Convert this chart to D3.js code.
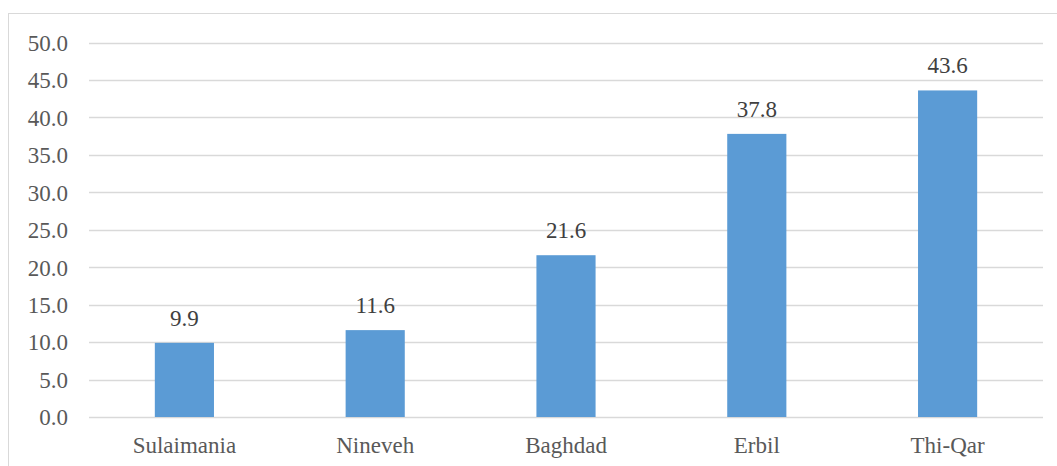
<!DOCTYPE html>
<html>
<head>
<meta charset="utf-8">
<script src="https://cdn.jsdelivr.net/npm/d3@7"></script>
<style>
html,body{margin:0;padding:0;background:#fff;}
svg{display:block;}
svg text{font-family:"Liberation Serif","Times New Roman",Times,"Tinos","DejaVu Serif",serif !important;}
</style>
</head>
<body>
<svg id="chart" width="1057" height="466"></svg>
<script>
const categories = ["Sulaimania", "Nineveh", "Baghdad", "Erbil", "Thi-Qar"];
const values = [9.9, 11.6, 21.6, 37.8, 43.6];
const yTicks = [0, 5, 10, 15, 20, 25, 30, 35, 40, 45, 50];

const svg = d3.select("#chart");
const W = 1057, H = 466;
const m = {left: 89, right: 14, top: 42.5, bottom: 49};

svg.append("rect").attr("x", 8.5).attr("y", 13.5).attr("width", 1200).attr("height", 600)
  .attr("fill", "none").attr("stroke", "#D9D9D9").attr("stroke-width", 1);

const x = d3.scaleBand().domain(categories).range([m.left, W - m.right]).paddingInner(0.69).paddingOuter(0.345);
const y = d3.scaleLinear().domain([0, 50]).range([H - m.bottom, m.top]);

const grid = svg.append("g");
grid.selectAll("line").data(yTicks).join("line")
  .attr("x1", m.left).attr("x2", W - m.right)
  .attr("y1", d => Math.round(y(d)) + 0.5).attr("y2", d => Math.round(y(d)) + 0.5)
  .attr("stroke", "#D9D9D9").attr("stroke-width", 1.3);

const yAxis = svg.append("g").attr("transform", `translate(${m.left - 21},0)`)
  .call(d3.axisLeft(y).tickValues(yTicks).tickFormat(d3.format(".1f")).tickSize(0).tickPadding(0));
yAxis.select(".domain").remove();
yAxis.attr("font-family", null);
yAxis.selectAll("text").attr("font-size", 23).attr("fill", "#595959").attr("dy", "0.34em");

svg.append("g").selectAll("rect").data(values).join("rect")
  .attr("x", (d, i) => x(categories[i]))
  .attr("width", x.bandwidth())
  .attr("y", d => y(d))
  .attr("height", d => y(0) - y(d))
  .attr("fill", "#5B9BD5");

const xAxis = svg.append("g").attr("transform", `translate(0,${y(0)})`)
  .call(d3.axisBottom(x).tickSize(0).tickPadding(0));
xAxis.select(".domain").remove();
xAxis.attr("font-family", null);
xAxis.selectAll("text").attr("font-size", 23).attr("fill", "#595959")
  .attr("dy", null).attr("y", 36);

svg.append("g").selectAll("text").data(values).join("text")
  .attr("x", (d, i) => x(categories[i]) + x.bandwidth() / 2)
  .attr("y", d => y(d) - 17)
  .attr("text-anchor", "middle")
  .attr("font-size", 23).attr("fill", "#404040")
  .text(d => d3.format(".1f")(d));
</script>
</body>
</html>
